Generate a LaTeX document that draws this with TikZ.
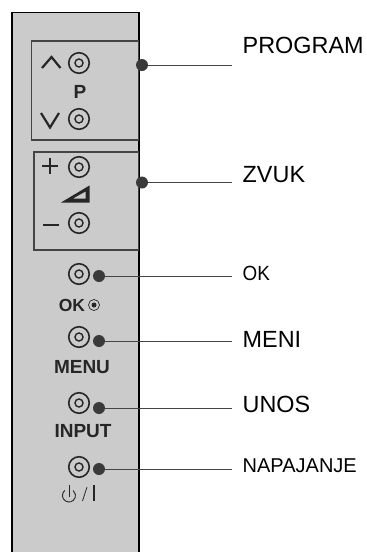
\documentclass[tikz,border=0pt]{standalone}
\usepackage{fontspec}
\setmainfont{Liberation Sans}
\usetikzlibrary{calc}
\definecolor{panelgray}{HTML}{CBCBCB}
\definecolor{dotgray}{HTML}{3A3A3A}
\definecolor{boxgray}{HTML}{444444}
\tikzstyle{button}=[%
  draw=black!85,
  circle,
  fill=panelgray,
  line width=1.6pt,
  minimum size=20.5pt,
  inner sep=0pt
]
\tikzstyle{buttonhole}=[%
  draw=black!85,
  circle,
  line width=1.4pt,
  minimum size=8pt,
  inner sep=0pt
]
\tikzstyle{dot}=[%
  circle,
  fill=dotgray,
  minimum size=12pt,
  inner sep=0pt
]
\tikzstyle{keylabel}=[%
  anchor=base,
  inner sep=0pt,
  text=black!85,
  font=\fontsize{19}{19}\selectfont\bfseries
]
\tikzstyle{itemlabel}=[%
  anchor=base west,
  inner sep=0pt,
  font=\fontsize{23.4}{24}\selectfont
]
\tikzstyle{lead}=[line width=1pt, draw=boxgray]
\tikzstyle{keymark}=[line width=1.7pt, draw=black!85]

\begin{document}
\begin{tikzpicture}[x=1pt, y=-1pt]
      \useasboundingbox (0, 0) rectangle (367, 552);
      % panel
      \fill[panelgray] (12, 12.5) rectangle (139, 552);
      \draw[line width=1.9pt] (12, 552) -- (12, 12.5) -- (139, 12.5) -- (139, 552);
      \draw[line width=1.3pt, draw=boxgray, fill=panelgray] (31.5, 41) rectangle (138.5, 140);
      \draw[line width=1.3pt, draw=boxgray, fill=panelgray] (34, 152) rectangle (138.5, 250);
      % buttons
      \foreach \name/\x/\y in {up/79/63, down/79/119, plus/79/167, minus/79/223,
                               ok/79/274, menu/79/337, input/79/403, power/79/467} {%
        \node[button] (\name) at (\x, \y) {};
        \node[buttonhole] (\name hole) at (\name) {};
      }
      % key marks
      \draw[keymark, line width=2.2pt] (42, 68) -- (51.5, 57) -- (60.5, 68);
      \draw[keymark, line width=2.2pt] (41, 113) -- (50, 127.5) -- (59, 113);
      \draw[keymark] (42, 166) -- (58, 166) (50, 158) -- (50, 174);
      \draw[keymark] (43, 225) -- (59, 225);
      \fill[black!85, even odd rule] (61, 202.5) -- (89.5, 185.5) -- (89.5, 202.5) -- cycle
        (73, 198.5) -- (85.5, 191.5) -- (85.5, 198.5) -- cycle;
      % key labels
      \node[keylabel] (plabel) at (80, 98) {P};
      \node[keylabel, font=\fontsize{17.5}{18}\selectfont\bfseries] (oklabel) at (72, 311) {OK};
      \node[keylabel] (menulabel) at (82, 373) {MENU};
      \node[keylabel] (inputlabel) at (83, 437.5) {INPUT};
      \node[circle, draw=black!85, line width=0.7pt, minimum size=11pt, inner sep=0pt] (oktarget) at (94, 305) {};
      \node[circle, fill=black!85, minimum size=5pt, inner sep=0pt] (oktargetdot) at (94, 305) {};
      % power sign
      \draw[line width=0.9pt, draw=black!85] (64.8, 490.5) arc[start angle=-130, end angle=-410, radius=6.5];
      \draw[line width=0.9pt, draw=black!85] (69.2, 485) -- (69.2, 497);
      \draw[line width=0.8pt, draw=black!85] (82.5, 501) -- (87, 487);
      \draw[line width=1.6pt, draw=black!85] (94, 485) -- (94, 501);
      % leads
      \foreach \name/\x/\y/\txt/\ty in {program/142/65/PROGRAM/53.5, zvuk/142/182.5/ZVUK/182.7,
                                        meni/99/341/MENI/347, unos/99/408/UNOS/412.7} {%
        \node[dot] (\name dot) at (\x, \y) {};
        \coordinate (\name end) at (232, \y);
        \draw[lead] (\name dot) -- (\name end);
        \node[itemlabel] (\name) at (242.5, \ty) {\txt};
      }
      \node[dot] (okdot) at (99, 276) {};
      \coordinate (okend) at (232, 276);
      \draw[lead] (okdot) -- (okend);
      \node[itemlabel, font=\fontsize{20.5}{20}\selectfont, xscale=0.92] (oktext) at (242.5, 280.7) {OK};
      \node[dot] (powerdot) at (99, 469) {};
      \coordinate (powerend) at (232, 469);
      \draw[lead] (powerdot) -- (powerend);
      \node[itemlabel, font=\fontsize{20}{20}\selectfont] (napajanje) at (242.5, 472.7) {NAPAJANJE};
    \end{tikzpicture}
\end{document}
